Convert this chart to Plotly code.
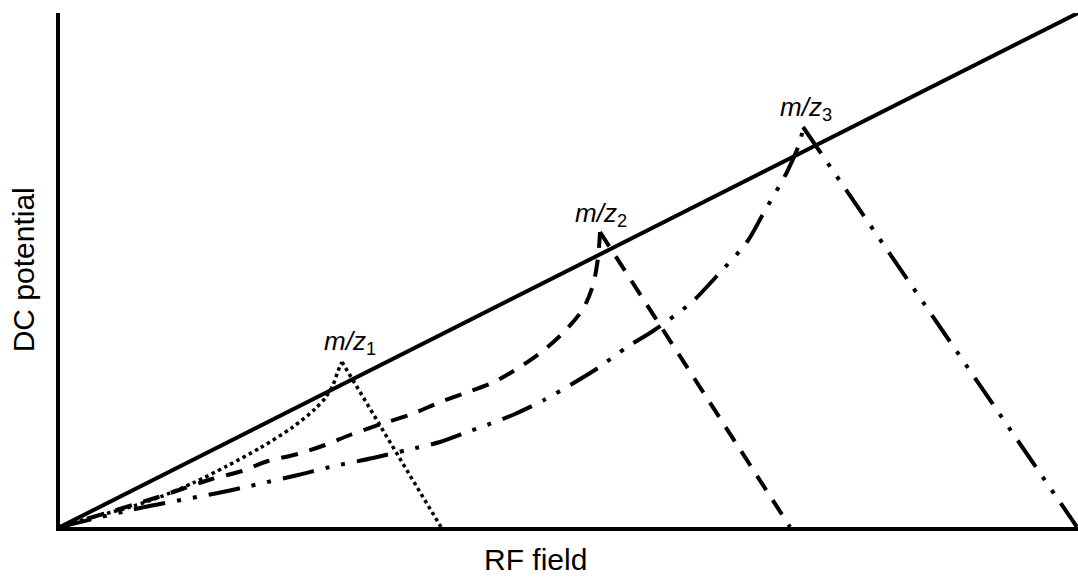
import plotly.graph_objects as go

# Scan line (solid)
scan_x = [0.0, 10.18]
scan_y = [0.0, 5.14]

# m/z1 stability region (dotted): rising boundary, then falling boundary from apex
mz1_rise_x = [0.0, 0.33, 0.67, 1.00, 1.33, 1.67, 2.00, 2.33, 2.55, 2.66, 2.73, 2.78, 2.82]
mz1_rise_y = [0.0, 0.10, 0.19, 0.30, 0.44, 0.61, 0.79, 1.00, 1.18, 1.30, 1.42, 1.56, 1.65]
mz1_fall_x = [2.82, 3.81]
mz1_fall_y = [1.65, 0.0]

# m/z2 stability region (dashed)
mz2_rise_x = [0.0, 0.95, 1.22, 1.52, 1.82, 2.08, 2.38, 2.65, 2.90, 3.21, 3.52, 3.78, 4.05,
              4.32, 4.60, 4.84, 5.04, 5.23, 5.33, 5.38, 5.40]
mz2_rise_y = [0.0, 0.29, 0.38, 0.48, 0.56, 0.66, 0.73, 0.82, 0.92, 1.03, 1.13, 1.24, 1.34,
              1.44, 1.60, 1.77, 1.95, 2.18, 2.42, 2.69, 2.95]
mz2_fall_x = [5.40, 7.30]
mz2_fall_y = [2.95, 0.0]

# m/z3 stability region (dash-dot-dot)
mz3_rise_x = [0.0, 0.80, 1.58, 1.90, 2.38, 2.70, 3.13, 3.47, 3.80, 4.10, 4.27, 4.55, 4.84,
              5.12, 5.38, 5.67, 5.93, 6.32, 6.55, 6.87, 7.03, 7.27, 7.40, 7.43]
mz3_rise_y = [0.0, 0.19, 0.34, 0.41, 0.52, 0.60, 0.69, 0.77, 0.85, 0.96, 1.02, 1.13, 1.27,
              1.43, 1.59, 1.80, 1.96, 2.25, 2.49, 2.85, 3.13, 3.55, 3.85, 4.00]
mz3_fall_x = [7.43, 10.17]
mz3_fall_y = [4.00, 0.0]

labels = ["1", "2", "3"]
label_x = [2.62, 5.13, 7.18]
label_y = [1.85, 3.13, 4.19]

x_title = "RF field"
y_title = "DC potential"

FONT = "Liberation Sans, Arial, sans-serif"

fig = go.Figure()
dotted = dict(color="black", width=3.5, dash="3.5px,3.5px")
dashed = dict(color="black", width=4, dash="17px,12px")
dashdotdot = dict(color="black", width=4, dash="32px,12px,4px,12px,4px,12px")

fig.add_trace(go.Scatter(x=mz1_rise_x, y=mz1_rise_y, mode="lines", line=dict(**dotted, shape="spline", smoothing=0.8)))
fig.add_trace(go.Scatter(x=mz1_fall_x, y=mz1_fall_y, mode="lines", line=dotted))
fig.add_trace(go.Scatter(x=mz2_rise_x, y=mz2_rise_y, mode="lines", line=dict(**dashed, shape="spline", smoothing=0.8)))
fig.add_trace(go.Scatter(x=mz2_fall_x, y=mz2_fall_y, mode="lines", line=dashed))
fig.add_trace(go.Scatter(x=mz3_rise_x, y=mz3_rise_y, mode="lines", line=dict(**dashdotdot, shape="spline", smoothing=0.8)))
fig.add_trace(go.Scatter(x=mz3_fall_x, y=mz3_fall_y, mode="lines", line=dashdotdot))
fig.add_trace(go.Scatter(x=scan_x, y=scan_y, mode="lines", line=dict(color="black", width=4)))

for s, lx, ly in zip(labels, label_x, label_y):
    fig.add_annotation(x=lx, y=ly, xref="x", yref="y", showarrow=False,
                       xanchor="left", yanchor="middle",
                       text=f"<i>m/z</i><sub>{s}</sub>",
                       font=dict(family=FONT, size=26, color="black"))

fig.add_annotation(x=4.75, y=-0.064, xref="x", yref="paper", showarrow=False,
                   xanchor="center", yanchor="middle", text=x_title,
                   font=dict(family=FONT, size=30, color="black"))
fig.add_annotation(x=-0.036, y=0.5, xref="paper", yref="paper", showarrow=False,
                   xanchor="center", yanchor="middle", text=y_title, textangle=-90,
                   font=dict(family=FONT, size=30, color="black"))

fig.update_layout(
    width=1078, height=577,
    margin=dict(l=60, r=0, t=13, b=50),
    paper_bgcolor="white", plot_bgcolor="white",
    showlegend=False,
    font=dict(family=FONT, color="black"),
)
fig.update_xaxes(range=[0, 10.18], showline=True, linewidth=4, linecolor="black",
                 showgrid=False, zeroline=False, showticklabels=False, ticks="")
fig.update_yaxes(range=[0, 5.14], showline=True, linewidth=4, linecolor="black",
                 showgrid=False, zeroline=False, showticklabels=False, ticks="")

fig.write_html("out.html")
